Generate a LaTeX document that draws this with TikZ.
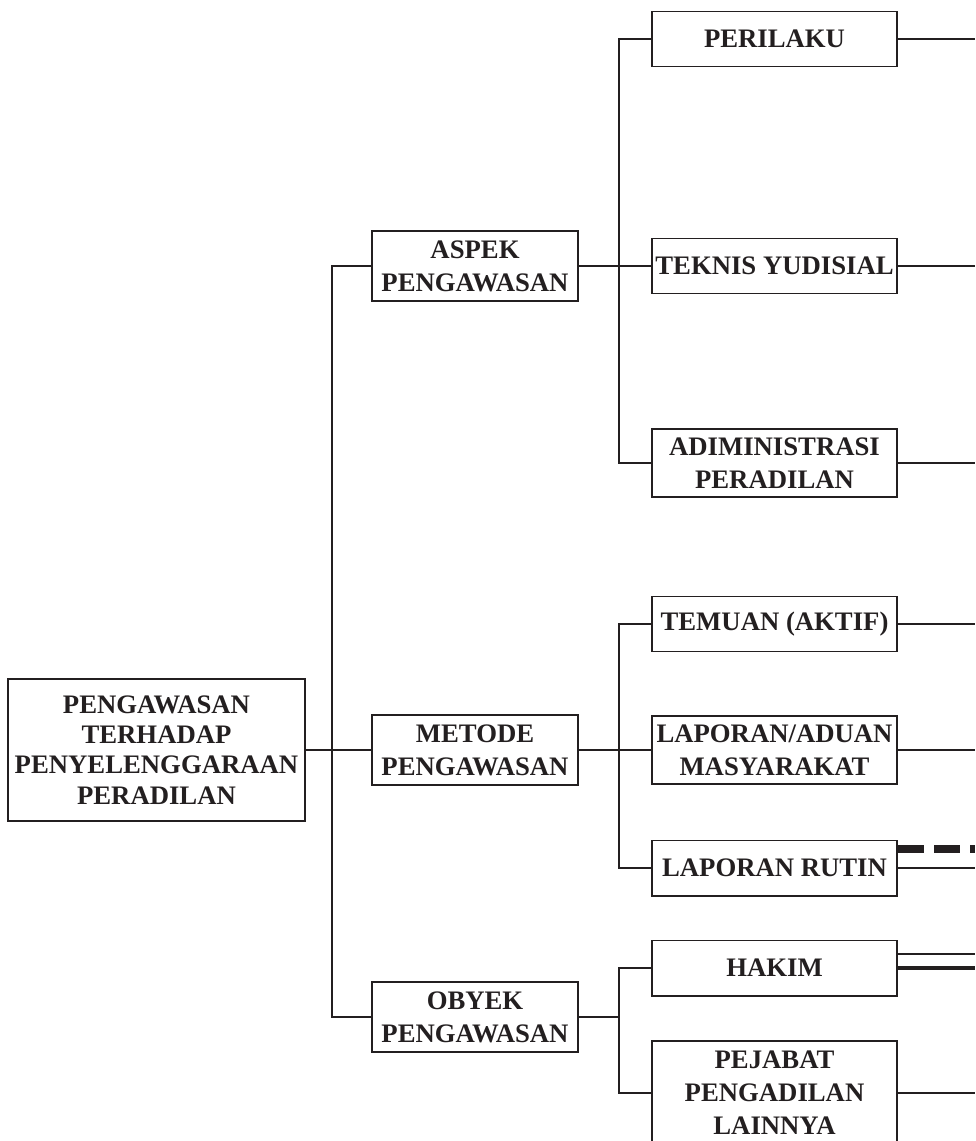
\documentclass[tikz,border=0pt]{standalone}
\usepackage{fontspec}
\setmainfont{Liberation Serif}
\usepackage{xcolor}
\definecolor{ink}{HTML}{231F20}

\tikzset{
  box/.style={draw=ink, line width=1.4pt, fill=white, text=ink, align=center, inner sep=0pt,
              font=\fontsize{19}{23.5}\selectfont\bfseries},
  lvlone/.style={box, minimum width=5.15cm, minimum height=1.75cm},
  lvltwo/.style={box, minimum width=6.125cm, minimum height=1.375cm},
  link/.style={draw=ink, line width=1.4pt},
}

\begin{document}
\begin{tikzpicture}[x=0.025cm,y=-0.025cm]
\clip (0,0) rectangle (975,1141);
%\draw[step=50,gray,very thin] (0,0) grid (975,1141); %background grid

\coordinate (trunk) at (332,0);
\coordinate (fork) at (619,0);
\coordinate (edge) at (975,0);

% root
\node[box, minimum width=7.425cm, minimum height=3.55cm, font=\fontsize{19}{21.5}\selectfont\bfseries] (root) at (156.5,750)
  {PENGAWASAN\\TERHADAP\\PENYELENGGARAAN\\PERADILAN};

% level one
\node[lvlone] (aspek)  at (475,266)  {ASPEK\\PENGAWASAN};
\node[lvlone] (metode) at (475,750)  {METODE\\PENGAWASAN};
\node[lvlone] (obyek)  at (475,1017) {OBYEK\\PENGAWASAN};

% level two
\node[lvltwo] (perilaku) at (774.5,39)  {PERILAKU};
\node[lvltwo] (teknis)   at (774.5,266) {TEKNIS YUDISIAL};
\node[lvltwo, minimum height=1.7cm] (adm) at (774.5,463) {ADIMINISTRASI\\PERADILAN};

\node[lvltwo] (temuan) at (774.5,624) {TEMUAN (AKTIF)};
\node[lvltwo, minimum height=1.7cm] (aduan) at (774.5,750) {LAPORAN/ADUAN\\MASYARAKAT};
\node[lvltwo] (rutin)  at (774.5,868) {LAPORAN RUTIN};

\node[lvltwo] (hakim) at (774.5,968) {HAKIM};
\node[lvltwo, minimum height=2.6cm] (pejabat) at (774.5,1093) {PEJABAT\\PENGADILAN\\LAINNYA};

% trunk
\draw[link] (root.east) -- (metode.west);
\draw[link] (aspek.west) -- (aspek.west -| trunk) -- (obyek.west -| trunk) -- (obyek.west);

% forks
\draw[link] (aspek.east) -- (teknis.west);
\draw[link] (perilaku.west) -- (perilaku.west -| fork) |- (adm.west);

\draw[link] (metode.east) -- (aduan.west);
\draw[link] (temuan.west) -- (temuan.west -| fork) |- (rutin.west);

\draw[link] (obyek.east) -- (obyek.east -| fork);
\draw[link] (hakim.west) -- (hakim.west -| fork) |- (pejabat.west);

% lines to the right
\foreach \n in {perilaku,teknis,adm,temuan,aduan,rutin,pejabat}
  \draw[link] (\n.east) -- (\n.east -| edge);

\draw[ink, line width=5.5pt, dash pattern=on 0.65cm off 0.25cm] ([yshift=0.475cm]rutin.east) -- ([yshift=0.475cm]rutin.east -| edge); %dashed
\draw[link] ([yshift=0.35cm]hakim.east) -- ([yshift=0.35cm]hakim.east -| edge);
\draw[ink, line width=3.5pt] (hakim.east) -- (hakim.east -| edge); %thick

\end{tikzpicture}
\end{document}
